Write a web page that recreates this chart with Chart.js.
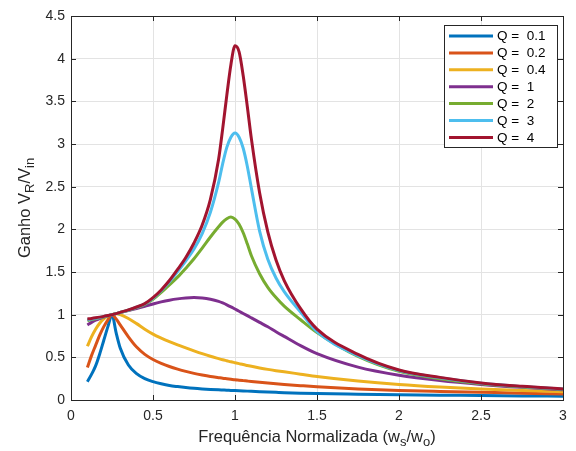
<!DOCTYPE html>
<html>
<head>
<meta charset="utf-8">
<script src="https://cdn.jsdelivr.net/npm/chart.js@4.4.1/dist/chart.umd.min.js"></script>
<style>
  html, body { margin: 0; padding: 0; background: #fff; }
</style>
</head>
<body>
<canvas id="chartCanvas" width="576" height="451"></canvas>
<script>
// frequência normalizada (eixo x)
const freq = [0.1, 0.125, 0.15, 0.175, 0.2, 0.225, 0.25, 0.275, 0.3, 0.35, 0.4, 0.45, 0.5, 0.55, 0.6, 0.65, 0.7, 0.75, 0.8, 0.85,
  0.9, 0.925, 0.95, 0.975, 1.0, 1.025, 1.05, 1.075, 1.1, 1.15, 1.2, 1.25, 1.3, 1.4, 1.5, 1.75, 2.0, 2.25, 2.5, 2.75, 3.0];

// ganho, uma série por Q
const gainQ01 = [0.215, 0.30, 0.40, 0.54, 0.70, 0.86, 1.0, 0.79, 0.61, 0.41, 0.31, 0.25, 0.215, 0.19, 0.17, 0.157, 0.146, 0.137, 0.13, 0.124,
  0.119, 0.117, 0.115, 0.112, 0.11, 0.108, 0.106, 0.104, 0.102, 0.098, 0.094, 0.09, 0.086, 0.08, 0.075, 0.068, 0.062, 0.057, 0.053, 0.048, 0.044];
const gainQ02 = [0.38, 0.52, 0.64, 0.76, 0.86, 0.94, 1.0, 0.95, 0.88, 0.74, 0.62, 0.535, 0.475, 0.43, 0.393, 0.362, 0.335, 0.312, 0.293, 0.276,
  0.262, 0.255, 0.249, 0.243, 0.237, 0.232, 0.227, 0.222, 0.217, 0.207, 0.198, 0.19, 0.182, 0.168, 0.155, 0.13, 0.112, 0.10, 0.09, 0.08, 0.071];
const gainQ04 = [0.63, 0.74, 0.83, 0.90, 0.95, 0.985, 1.0, 1.01, 1.0, 0.955, 0.895, 0.83, 0.772, 0.725, 0.683, 0.645, 0.61, 0.576, 0.543, 0.512,
  0.485, 0.472, 0.46, 0.448, 0.437, 0.426, 0.415, 0.405, 0.395, 0.376, 0.359, 0.344, 0.33, 0.303, 0.276, 0.222, 0.181, 0.151, 0.128, 0.111, 0.097];
const gainQ1 = [0.88, 0.91, 0.935, 0.955, 0.972, 0.987, 1.0, 1.012, 1.025, 1.048, 1.072, 1.098, 1.125, 1.15, 1.17, 1.185, 1.195, 1.2, 1.195, 1.18,
  1.155, 1.137, 1.116, 1.092, 1.066, 1.04, 1.014, 0.988, 0.962, 0.91, 0.858, 0.80, 0.745, 0.637, 0.543, 0.385, 0.29, 0.228, 0.183, 0.148, 0.12];
const gainQ2 = [0.93, 0.942, 0.953, 0.964, 0.976, 0.988, 1.0, 1.012, 1.025, 1.052, 1.083, 1.12, 1.18, 1.26, 1.35, 1.44, 1.545, 1.655, 1.78, 1.91,
  2.03, 2.085, 2.125, 2.145, 2.12, 2.06, 1.96, 1.83, 1.69, 1.48, 1.32, 1.20, 1.10, 0.94, 0.79, 0.51, 0.335, 0.25, 0.19, 0.153, 0.125];
const gainQ3 = [0.94, 0.948, 0.957, 0.967, 0.978, 0.989, 1.0, 1.012, 1.026, 1.054, 1.087, 1.125, 1.19, 1.28, 1.385, 1.505, 1.63, 1.77, 1.95, 2.2,
  2.55, 2.77, 2.96, 3.08, 3.13, 3.08, 2.95, 2.74, 2.48, 1.98, 1.65, 1.43, 1.27, 1.03, 0.80, 0.52, 0.345, 0.26, 0.197, 0.158, 0.128];
const gainQ4 = [0.95, 0.956, 0.963, 0.971, 0.98, 0.99, 1.0, 1.012, 1.027, 1.056, 1.09, 1.13, 1.2, 1.29, 1.40, 1.53, 1.67, 1.84, 2.05, 2.35,
  2.82, 3.18, 3.57, 3.93, 4.15, 4.08, 3.8, 3.44, 3.06, 2.43, 1.97, 1.64, 1.40, 1.07, 0.83, 0.535, 0.352, 0.265, 0.20, 0.16, 0.13];

const seriesLabels = ['Q =  0.1', 'Q =  0.2', 'Q =  0.4', 'Q =  1', 'Q =  2', 'Q =  3', 'Q =  4'];
const seriesColors = ['#0072BD', '#D95319', '#EDB120', '#7E2F8E', '#77AC30', '#4DBEEE', '#A2142F'];
const allGains = [gainQ01, gainQ02, gainQ04, gainQ1, gainQ2, gainQ3, gainQ4];

const xTicks = [0, 0.5, 1, 1.5, 2, 2.5, 3];
const yTicks = [0, 0.5, 1, 1.5, 2, 2.5, 3, 3.5, 4, 4.5];

const FONT = '"Liberation Sans", Arial, Helvetica, sans-serif';
const AXIS_COLOR = '#262626';

// textos com subscrito
const xTitle = [{ t: 'Frequência Normalizada (w' }, { t: 's', sub: true }, { t: '/w' }, { t: 'o', sub: true }, { t: ')' }];
const yTitle = [{ t: 'Ganho V' }, { t: 'R', sub: true }, { t: '/V' }, { t: 'in', sub: true }];

function drawRich(ctx, parts, cx, cy, size, subSize) {
  let total = 0;
  parts.forEach(p => {
    ctx.font = (p.sub ? subSize : size) + 'px ' + FONT;
    p.w = ctx.measureText(p.t).width;
    total += p.w;
  });
  let x = cx - total / 2;
  ctx.textAlign = 'left';
  ctx.textBaseline = 'alphabetic';
  parts.forEach(p => {
    ctx.font = (p.sub ? subSize : size) + 'px ' + FONT;
    ctx.fillText(p.t, x, cy + (p.sub ? 4 : 0));
    x += p.w;
  });
}

const matlabAxes = {
  id: 'matlabAxes',
  afterDraw(chart) {
    const { ctx, chartArea } = chart;
    const { left, right, top, bottom } = chartArea;
    const xs = chart.scales.x, ys = chart.scales.y;
    ctx.save();
    ctx.strokeStyle = AXIS_COLOR;
    ctx.lineWidth = 1;
    ctx.strokeRect(Math.round(left) + 0.5, Math.round(top) + 0.5, Math.round(right - left), Math.round(bottom - top));

    // ticks para dentro
    ctx.beginPath();
    xTicks.forEach(v => {
      const px = Math.round(xs.getPixelForValue(v)) + 0.5;
      ctx.moveTo(px, bottom); ctx.lineTo(px, bottom - 5);
      ctx.moveTo(px, top); ctx.lineTo(px, top + 5);
    });
    yTicks.forEach(v => {
      const py = Math.round(ys.getPixelForValue(v)) + 0.5;
      ctx.moveTo(left, py); ctx.lineTo(left + 5, py);
      ctx.moveTo(right, py); ctx.lineTo(right - 5, py);
    });
    ctx.stroke();

    // títulos dos eixos
    ctx.fillStyle = AXIS_COLOR;
    drawRich(ctx, xTitle, (left + right) / 2, 442, 16.5, 13);
    ctx.save();
    ctx.translate(30, (top + bottom) / 2);
    ctx.rotate(-Math.PI / 2);
    drawRich(ctx, yTitle, 0, 0, 16.5, 13);
    ctx.restore();

    // legenda
    const lx = 444.5, ly = 25.5, lw = 113, lh = 122;
    ctx.fillStyle = '#fff';
    ctx.fillRect(lx, ly, lw, lh);
    ctx.strokeStyle = AXIS_COLOR;
    ctx.strokeRect(lx, ly, lw, lh);
    ctx.font = '13.5px ' + FONT;
    ctx.textBaseline = 'middle';
    ctx.textAlign = 'left';
    chart.data.datasets.forEach((ds, i) => {
      const y = 36 + i * 16.9;
      ctx.strokeStyle = ds.borderColor;
      ctx.lineWidth = 3;
      ctx.beginPath();
      ctx.moveTo(449, y); ctx.lineTo(493, y);
      ctx.stroke();
      ctx.fillStyle = '#000';
      ctx.fillText(ds.label, 497, y + 0.5);
    });
    ctx.restore();
  }
};

const datasets = allGains.map((g, i) => ({
  label: seriesLabels[i],
  data: freq.map((f, j) => ({ x: f, y: g[j] })),
  borderColor: seriesColors[i],
  backgroundColor: seriesColors[i],
  borderWidth: 3,
  pointRadius: 0,
  cubicInterpolationMode: 'monotone',
  fill: false,
  order: allGains.length - i, // Q = 4 por cima
}));

const config = {
  type: 'line',
  data: { datasets },
  options: {
    responsive: false,
    animation: false,
    devicePixelRatio: 1,
    layout: { padding: { left: 0, top: 16, right: 13, bottom: 0 } },
    plugins: { legend: { display: false }, tooltip: { enabled: false } },
    scales: {
      x: {
        type: 'linear',
        min: 0,
        max: 3,
        afterBuildTicks: s => { s.ticks = xTicks.map(v => ({ value: v })); },
        afterFit: s => { s.height = 51; },
        ticks: { callback: v => String(v), color: AXIS_COLOR, font: { size: 14, family: FONT }, padding: 8, maxRotation: 0, autoSkip: false },
        grid: { color: '#e3e3e3', drawTicks: false },
        border: { display: false },
      },
      y: {
        type: 'linear',
        min: 0,
        max: 4.5,
        afterBuildTicks: s => { s.ticks = yTicks.map(v => ({ value: v })); },
        afterFit: s => { s.width = 71; },
        ticks: { callback: v => String(v), color: AXIS_COLOR, font: { size: 14, family: FONT }, padding: 6, autoSkip: false },
        grid: { color: '#e3e3e3', drawTicks: false },
        border: { display: false },
      },
    },
  },
  plugins: [matlabAxes],
};

new Chart(document.getElementById('chartCanvas'), config);
</script>
</body>
</html>
